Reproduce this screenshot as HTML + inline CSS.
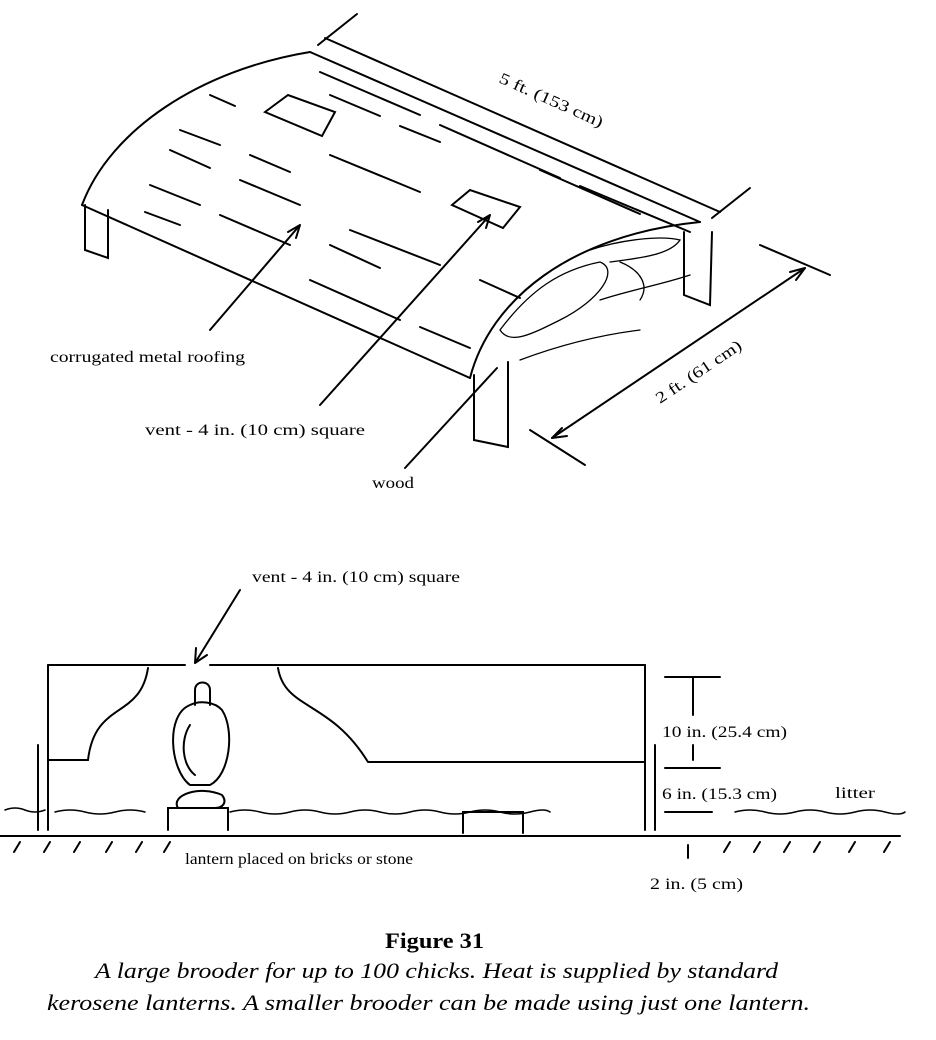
<!DOCTYPE html>
<html><head><meta charset="utf-8"><style>
html,body{margin:0;padding:0;background:#fff;}
svg{display:block;}
text{font-family:"Liberation Serif",serif;fill:#000;}
</style></head><body>
<svg width="936" height="1040" viewBox="0 0 936 1040" xmlns="http://www.w3.org/2000/svg">
<g stroke="#000" fill="none" stroke-width="2" stroke-linecap="round">
<path d="M82,205 C110,130 200,70 310,52"/>
<path d="M310,52 L700,222"/>
<path d="M82,205 L470,378"/>
<path d="M470,378 C490,300 570,235 700,222"/>
<g stroke-width="1.3">
<path d="M500,330 C530,290 560,270 600,262 C620,270 600,300 560,320 C530,335 510,345 500,330Z"/>
<path d="M590,250 C620,240 660,235 680,240 C670,255 640,258 610,262"/>
<path d="M600,300 C630,290 660,285 690,275"/>
<path d="M520,360 C560,345 600,335 640,330"/>
<path d="M620,262 C640,270 650,285 640,300"/>
</g>
<g stroke-width="2">
<path d="M320,72 L420,115"/><path d="M440,125 L560,178"/><path d="M580,186 L690,232"/>
<path d="M330,95 L380,116"/><path d="M400,126 L440,142"/><path d="M540,170 L640,214"/>
<path d="M210,95 L235,106"/><path d="M180,130 L220,145"/><path d="M250,155 L290,172"/>
<path d="M330,155 L420,192"/><path d="M170,150 L210,168"/><path d="M240,180 L300,205"/>
<path d="M150,185 L200,205"/><path d="M220,215 L290,245"/><path d="M330,245 L380,268"/>
<path d="M145,212 L180,225"/><path d="M310,280 L400,320"/><path d="M420,327 L470,348"/>
<path d="M350,230 L440,265"/><path d="M480,280 L520,298"/>
</g>
<path d="M265,112 L288,95 L335,112 L322,136 Z"/>
<path d="M452,205 L470,190 L520,207 L503,228 Z"/>
<path d="M85,205 L85,250 L108,258 L108,210"/>
<path d="M684,232 L684,295 L710,305 L712,232"/>
<path d="M474,375 L474,440 L508,447 L508,362"/>
<path d="M325,38 L720,212"/>
<path d="M357,14 L318,45"/><path d="M750,188 L712,218"/>
<path d="M552,438 L805,268"/>
<path d="M760,245 L830,275"/><path d="M530,430 L585,465"/>
<path d="M805,268 L790,272 M805,268 L796,280"/>
<path d="M552,438 L562,428 M552,438 L567,436"/>
<path d="M210,330 L300,225 M300,225 L288,232 M300,225 L296,238"/>
<path d="M320,405 L490,215 M490,215 L478,222 M490,215 L486,228"/>
<path d="M405,468 L497,368"/>
<path d="M240,590 L195,663 M195,663 L196,648 M195,663 L207,655"/>
<path d="M48,665 L185,665 M210,665 L645,665"/>
<path d="M48,665 L48,830 M645,665 L645,830"/>
<path d="M38,745 L38,830 M655,745 L655,830"/>
<path d="M48,760 L88,760 C95,700 140,720 148,668"/>
<path d="M278,668 C285,710 330,700 368,762 L645,762"/>
<path d="M0,836 L900,836"/>
<g stroke-width="1.5">
<path d="M5,810 q10,-4 20,0 t20,0 M55,812 q15,-4 30,0 t30,0 t30,0 M230,812 q15,-4 30,0 t30,0 t30,0 t30,0 t30,0 t30,0 t30,0 t30,0 t30,0 t30,0 t20,0"/>
<path d="M735,812 q15,-4 30,0 t30,0 t30,0 t30,0 t30,0 t20,0"/>
</g>
<path d="M168,830 L168,808 L228,808 L228,830"/>
<path d="M463,833 L463,812 L523,812 L523,833"/>
<path d="M178,808 C170,795 200,785 222,795 C228,803 222,808 215,808"/>
<path d="M190,785 C170,770 165,715 190,705 C200,700 215,702 222,710 C235,730 230,775 210,785 Z"/>
<path d="M195,705 L195,690 C195,680 210,680 210,690 L210,705"/>
<path d="M190,725 C180,740 182,765 195,775"/>
<g stroke-width="2">
<path d="M20,842 L14,852 M50,842 L44,852 M80,842 L74,852 M112,842 L106,852 M142,842 L136,852 M170,842 L164,852"/>
<path d="M730,842 L724,852 M760,842 L754,852 M790,842 L784,852 M820,842 L814,852 M855,842 L849,852 M890,842 L884,852"/>
</g>
<path d="M665,677 L720,677 M665,768 L720,768 M693,677 L693,715 M693,745 L693,760"/>
<path d="M665,812 L712,812 M688,845 L688,858"/>
</g>
<g font-size="16" lengthAdjust="spacingAndGlyphs">
<text x="50" y="362" textLength="195" lengthAdjust="spacingAndGlyphs">corrugated metal roofing</text>
<text x="145" y="435" textLength="220" lengthAdjust="spacingAndGlyphs">vent - 4 in. (10 cm) square</text>
<text x="372" y="488" textLength="42" lengthAdjust="spacingAndGlyphs">wood</text>
<text transform="translate(498,82) rotate(24)" textLength="112" lengthAdjust="spacingAndGlyphs">5 ft. (153 cm)</text>
<text transform="translate(660,404) rotate(-34)" textLength="100" lengthAdjust="spacingAndGlyphs">2 ft. (61 cm)</text>
<text x="252" y="582" textLength="208" lengthAdjust="spacingAndGlyphs">vent - 4 in. (10 cm) square</text>
<text x="662" y="737" textLength="125" lengthAdjust="spacingAndGlyphs">10 in. (25.4 cm)</text>
<text x="662" y="799" textLength="115" lengthAdjust="spacingAndGlyphs">6 in. (15.3 cm)</text>
<text x="835" y="798" textLength="40" lengthAdjust="spacingAndGlyphs">litter</text>
<text x="185" y="864" textLength="228" lengthAdjust="spacingAndGlyphs">lantern placed on bricks or stone</text>
<text x="650" y="889" textLength="93" lengthAdjust="spacingAndGlyphs">2 in. (5 cm)</text>
</g>
<text x="385" y="948" font-size="22" font-weight="bold" textLength="99" lengthAdjust="spacingAndGlyphs">Figure 31</text>
<text x="95" y="978" font-size="22" font-style="italic" textLength="683" lengthAdjust="spacingAndGlyphs">A large brooder for up to 100 chicks. Heat is supplied by standard</text>
<text x="47" y="1010" font-size="22" font-style="italic" textLength="763" lengthAdjust="spacingAndGlyphs">kerosene lanterns. A smaller brooder can be made using just one lantern.</text>
</svg>
</body></html>
